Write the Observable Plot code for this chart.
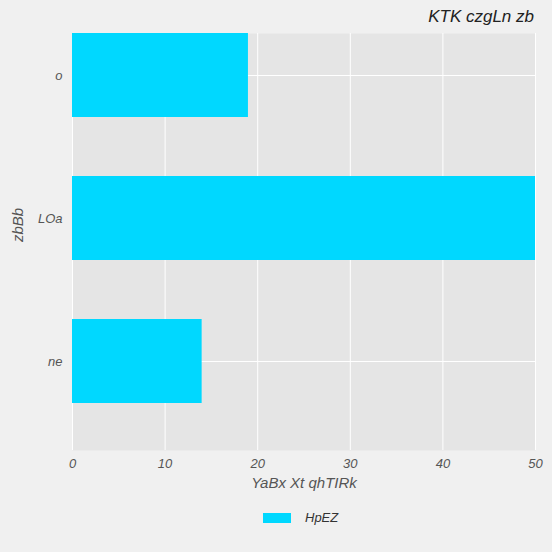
<!DOCTYPE html>
<html><head><meta charset="utf-8">
<script src="https://cdn.jsdelivr.net/npm/d3@7"></script>
<script src="https://cdn.jsdelivr.net/npm/@observablehq/plot@0.6"></script>
<style>
body{margin:0;background:#f0f0f0;font-family:"Liberation Sans",Arial,sans-serif;font-style:italic;}
#chart{width:552px;height:552px;position:relative}
#title{position:absolute;right:18px;top:7px;font-size:17px;color:#222}
#legend{position:absolute;top:510px;left:263px;font-size:13px;color:#333;display:flex;align-items:center}
#legend span.sw{display:inline-block;width:28px;height:10px;background:#00d8ff;margin-right:14px}
</style></head>
<body><div id="chart"><div id="title">KTK czgLn zb</div><div id="legend"><span class="sw"></span>HpEZ</div></div>
<script>
const categories = ["o", "LOa", "ne"]
const values = [19, 50, 14]
const xTicks = [0, 10, 20, 30, 40, 50]
const series = "HpEZ"

const data = categories.map((c, i) => ({cat: c, value: values[i]}))

const chart = Plot.plot({
  width: 552,
  height: 500,
  marginLeft: 72, marginRight: 17, marginTop: 33, marginBottom: 50,
  style: {background: "transparent", fontFamily: "Liberation Sans, Arial, sans-serif", fontStyle: "italic", fontSize: "13px", color: "#555"},
  x: {domain: [0, 50], ticks: xTicks, label: null},
  y: {domain: categories, range: [3.5, 432.5], paddingInner: 0.41, paddingOuter: 0.205, label: null},
  marks: [
    Plot.frame({fill: "#e5e5e5", stroke: null}),
    Plot.gridX(xTicks, {stroke: "white", strokeOpacity: 1, strokeWidth: 1}),
    Plot.gridY(categories, {stroke: "white", strokeOpacity: 1, strokeWidth: 1}),
    Plot.barX(data, {x: "value", y: "cat", fill: "#00d8ff", clip: true}),
    Plot.axisX({ticks: xTicks, tickSize: 0, tickPadding: 8, fill: "#555", fontSize: 13}),
    Plot.axisY({tickSize: 0, tickPadding: 10, fill: "#555", fontSize: 13}),
    Plot.text(["YaBx Xt qhTIRk"], {frameAnchor: "bottom", dy: 37, fill: "#555", fontSize: 15, fontStyle: "italic"}),
    Plot.text(["zbBb"], {frameAnchor: "left", dx: -54, rotate: -90, fill: "#555", fontSize: 15, fontStyle: "italic"})
  ]
})
d3.select("#chart").append(() => chart)
</script></body></html>
